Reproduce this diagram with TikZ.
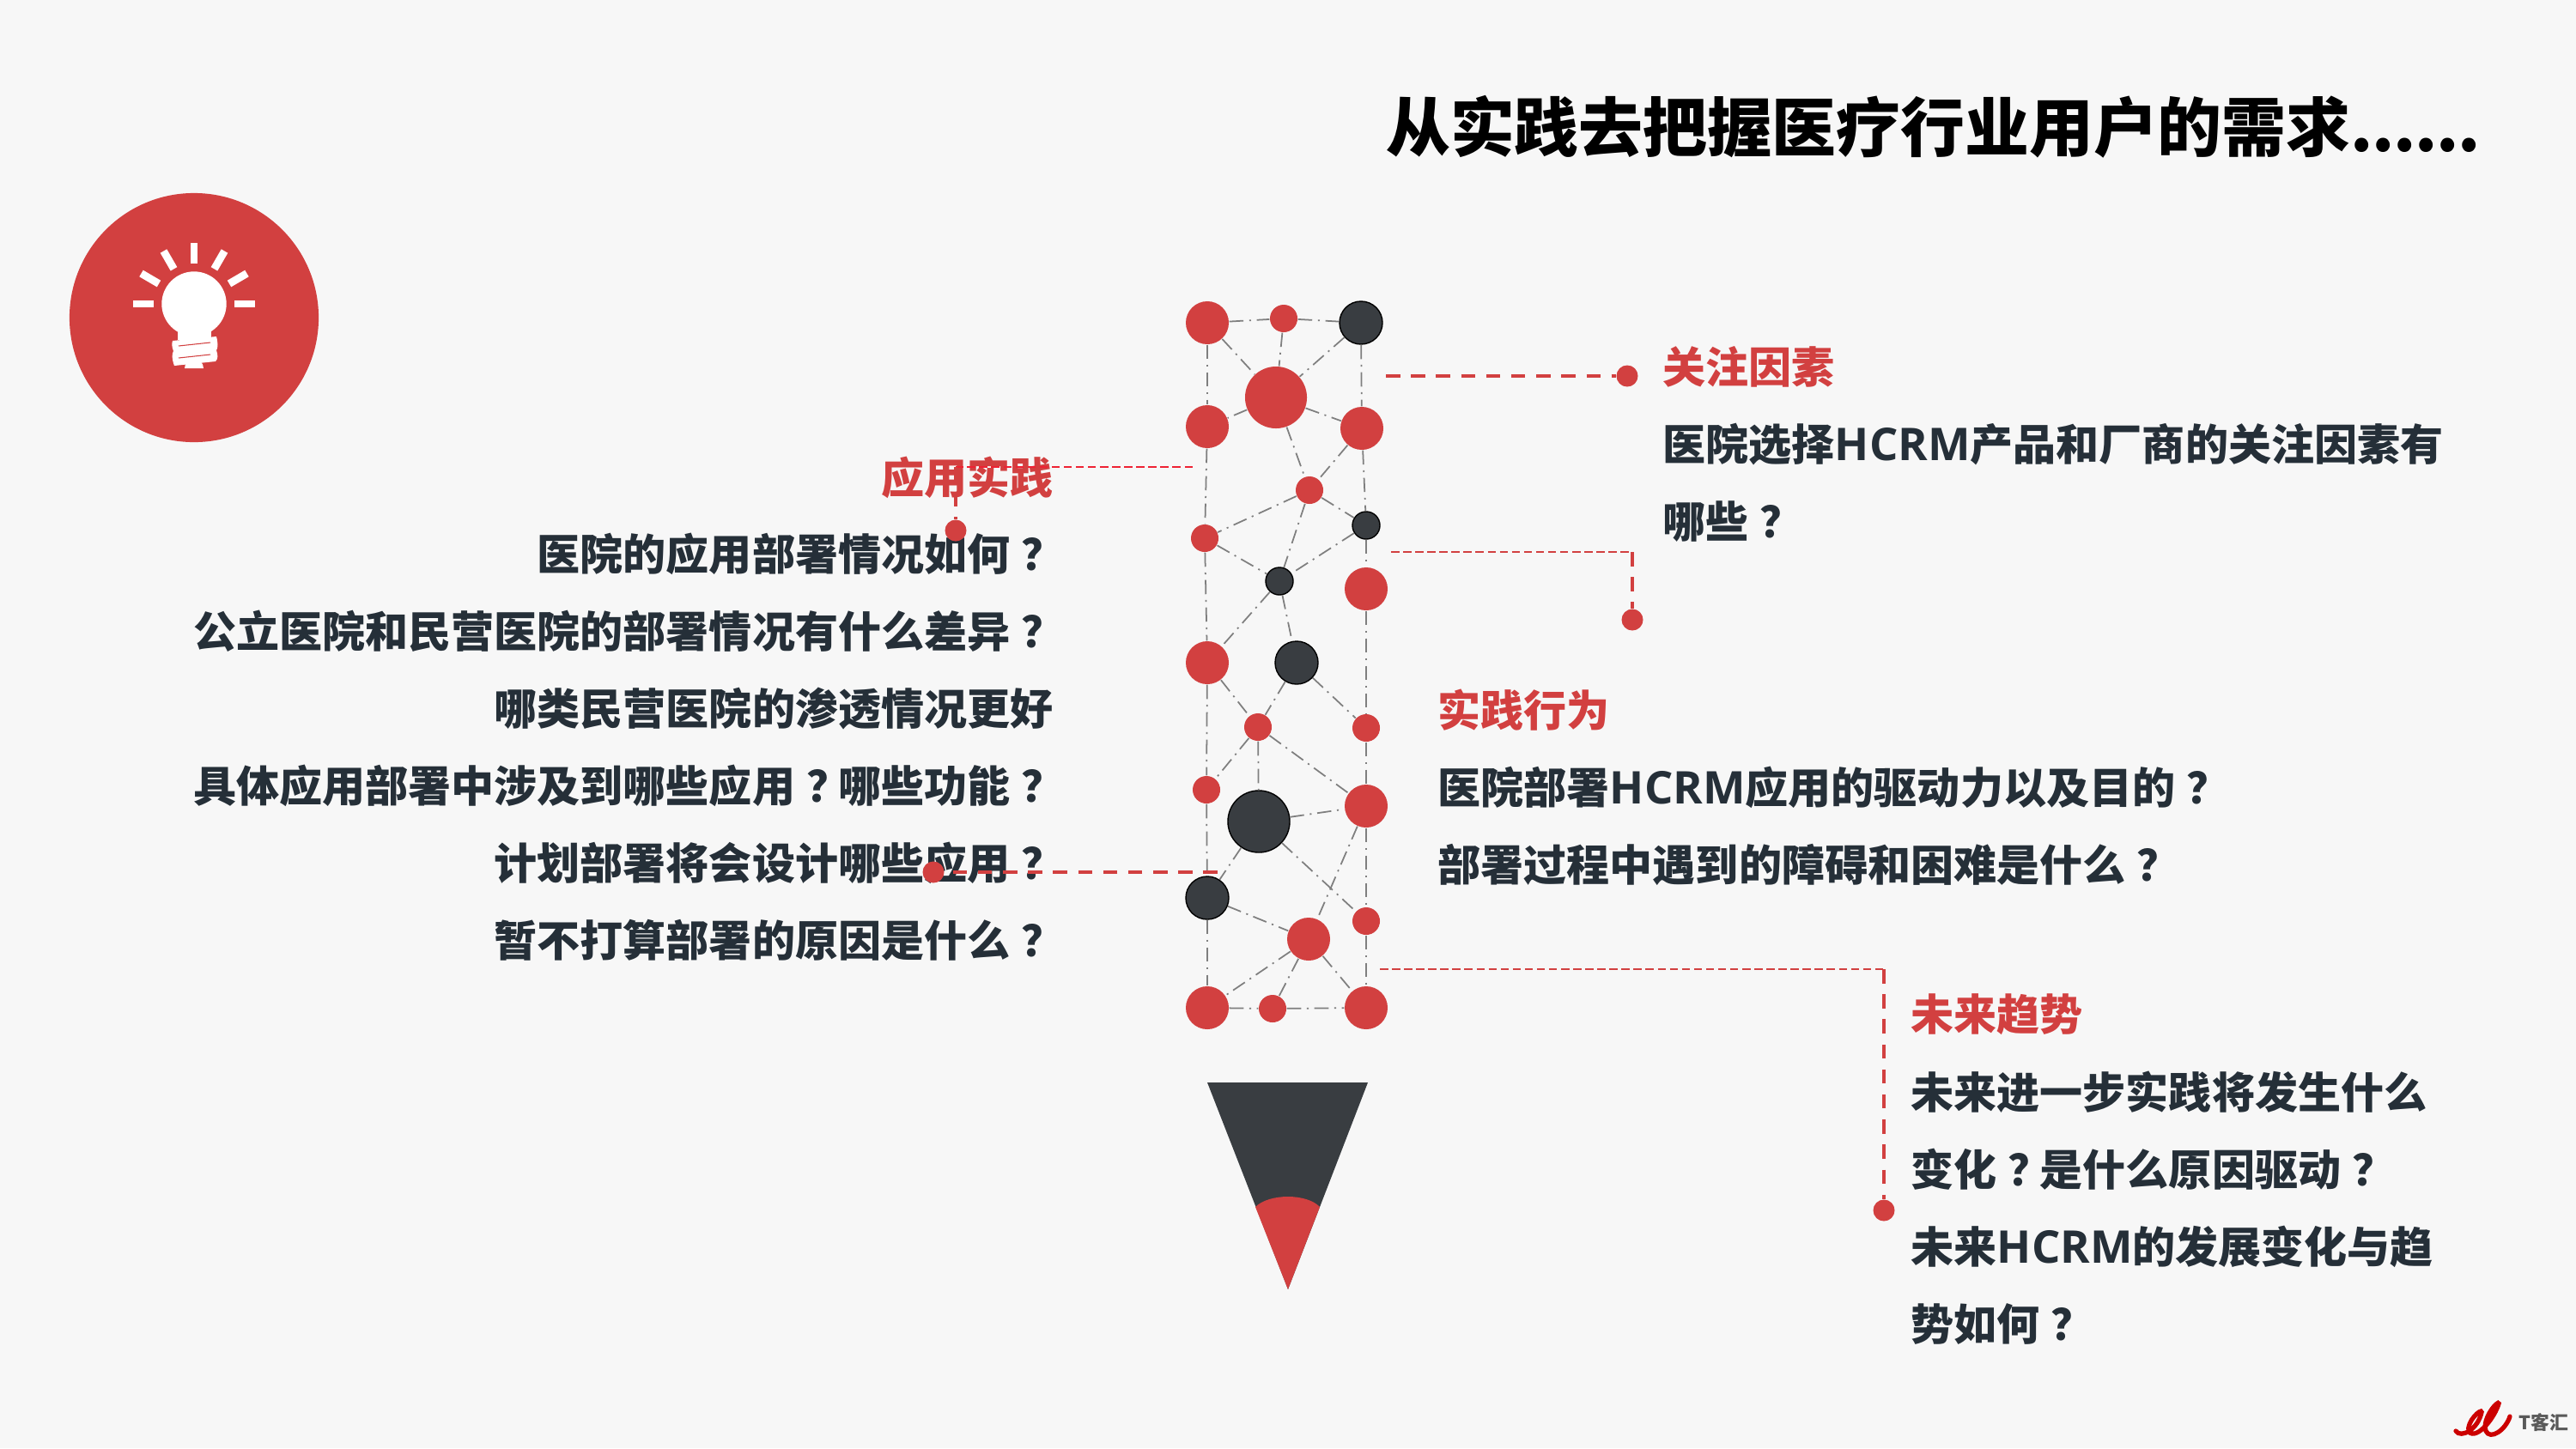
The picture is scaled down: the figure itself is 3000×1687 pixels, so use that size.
\documentclass[tikz,border=0pt]{standalone}
\usepackage{fontspec}
\setmainfont{Noto Sans CJK SC}
\newfontfamily\latinfont[Scale=1.05]{Open Sans}
\usetikzlibrary{positioning}
\definecolor{pagegray}{HTML}{F7F7F7}
\definecolor{ballred}{HTML}{D24040}
\definecolor{balldark}{HTML}{393D41}
\definecolor{linkgray}{HTML}{7F7F7F}
\definecolor{textdark}{HTML}{252F38}
\definecolor{brightred}{HTML}{EE2233}
\newcommand{\qmark}{\makebox[1em][l]{\hspace*{0.26em}？}}
\newcommand{\hcrm}{{\latinfont HCRM}}
\begin{document}
\begin{tikzpicture}[x=0.01cm,y=-0.01cm,
    ballstyle/.style={circle,inner sep=0pt},
    redsm/.style={ballstyle,fill=ballred,minimum size=0.32cm},
    redmd/.style={ballstyle,fill=ballred,minimum size=0.5cm},
    redlg/.style={ballstyle,fill=ballred,minimum size=0.72cm},
    darksm/.style={ballstyle,fill=balldark,draw=black,line width=0.4pt,minimum size=0.32cm},
    darkmd/.style={ballstyle,fill=balldark,draw=black,line width=0.4pt,minimum size=0.5cm},
    darklg/.style={ballstyle,fill=balldark,draw=black,line width=0.4pt,minimum size=0.72cm},
    linkline/.style={linkgray,line width=0.5pt,dash pattern=on 4.7pt off 1.9pt on 0.6pt off 1.9pt},
    thinred/.style={ballred,line width=0.5pt,dash pattern=on 2.7pt off 1.3pt},
    thickred/.style={ballred,line width=1.2pt,dash pattern=on 4.7pt off 3.6pt},
    enddot/.style={ballstyle,fill=ballred,minimum size=0.25cm},
    headtext/.style={inner sep=0pt,text=ballred,font=\fontsize{14.23}{25.6}\selectfont\bfseries},
    bodytext/.style={inner sep=0pt,text=textdark,font=\fontsize{14.23}{25.6}\selectfont\bfseries},
    bulbray/.style={white,line width=2.5pt}]
      \useasboundingbox (0,0) rectangle (3000,1687);
      \fill[pagegray] (0,0) rectangle (3000,1687);

      \node[anchor=east,inner sep=0pt,text=black,font=\fontsize{21.3}{26}\selectfont\bfseries] (title) at (2889,148) {从实践去把握医疗行业用户的需求{\addfontfeature{LetterSpace=-1.9}......}};

      \node[ballstyle,fill=ballred,minimum size=2.9cm] (badge) at (226,370) {};
      \fill[white] (226,354) circle (37.7);
      \fill[white] (207,380) rectangle (246,396);
      \fill[white] (201,397) -- (252,392) .. controls (254,400) and (254,405) .. (252,408) .. controls (254,414) and (254,418) .. (251,421) -- (203,426) .. controls (200,418) and (200,412) .. (202,409) .. controls (200,404) and (200,400) .. (201,397) -- cycle;
      \draw[ballred,line width=0.3pt] (208,403) -- (245,399);
      \draw[ballred,line width=0.3pt] (208,417) -- (245,413);
      \fill[white] (215,429) arc (180:0:11 and -11) -- cycle;
      \draw[bulbray] (273,354) -- (297,354);
      \draw[bulbray] (267,330.5) -- (287.5,318.5);
      \draw[bulbray] (249.5,313.3) -- (261.5,292.5);
      \draw[bulbray] (226,307) -- (226,283);
      \draw[bulbray] (202.5,313.3) -- (190.5,292.5);
      \draw[bulbray] (185,330.5) -- (164.5,318.5);
      \draw[bulbray] (179,354) -- (155,354);

      \node[redmd] (ball1) at (1406,376) {};
      \node[redsm] (ball2) at (1495,371) {};
      \node[darkmd] (ball3) at (1585,376) {};
      \node[redlg] (ball4) at (1486,463) {};
      \node[redmd] (ball5) at (1406,497) {};
      \node[redmd] (ball6) at (1586,499) {};
      \node[redsm] (ball7) at (1525,571) {};
      \node[darksm] (ball8) at (1591,612) {};
      \node[redsm] (ball9) at (1403,627) {};
      \node[darksm] (ball10) at (1490,677) {};
      \node[redmd] (ball11) at (1591,686) {};
      \node[redmd] (ball12) at (1406,772) {};
      \node[darkmd] (ball13) at (1510,772) {};
      \node[redsm] (ball14) at (1465,847) {};
      \node[redsm] (ball15) at (1591,848) {};
      \node[redsm] (ball16) at (1405,920) {};
      \node[redmd] (ball17) at (1591,939) {};
      \node[darklg] (ball18) at (1466,957) {};
      \node[darkmd] (ball19) at (1406,1046) {};
      \node[redmd] (ball20) at (1524,1094) {};
      \node[redsm] (ball21) at (1591,1073) {};
      \node[redmd] (ball22) at (1406,1174) {};
      \node[redsm] (ball23) at (1482,1175) {};
      \node[redmd] (ball24) at (1591,1174) {};

      \draw[linkline] (ball1) -- (ball2);
      \draw[linkline] (ball2) -- (ball3);
      \draw[linkline] (ball1) -- (ball4);
      \draw[linkline] (ball2) -- (ball4);
      \draw[linkline] (ball3) -- (ball4);
      \draw[linkline] (ball1) -- (ball5);
      \draw[linkline] (ball3) -- (ball6);
      \draw[linkline] (ball4) -- (ball5);
      \draw[linkline] (ball4) -- (ball6);
      \draw[linkline] (ball5) -- (ball9);
      \draw[linkline] (ball6) -- (ball8);
      \draw[linkline] (ball4) -- (ball7);
      \draw[linkline] (ball6) -- (ball7);
      \draw[linkline] (ball7) -- (ball8);
      \draw[linkline] (ball7) -- (ball9);
      \draw[linkline] (ball7) -- (ball10);
      \draw[linkline] (ball8) -- (ball10);
      \draw[linkline] (ball9) -- (ball10);
      \draw[linkline] (ball8) -- (ball11);
      \draw[linkline] (ball9) -- (ball12);
      \draw[linkline] (ball10) -- (ball12);
      \draw[linkline] (ball10) -- (ball13);
      \draw[linkline] (ball11) -- (ball15);
      \draw[linkline] (ball12) -- (ball16);
      \draw[linkline] (ball12) -- (ball14);
      \draw[linkline] (ball13) -- (ball14);
      \draw[linkline] (ball13) -- (ball15);
      \draw[linkline] (ball14) -- (ball16);
      \draw[linkline] (ball14) -- (ball18);
      \draw[linkline] (ball14) -- (ball17);
      \draw[linkline] (ball15) -- (ball17);
      \draw[linkline] (ball16) -- (ball19);
      \draw[linkline] (ball18) -- (ball17);
      \draw[linkline] (ball18) -- (ball19);
      \draw[linkline] (ball18) -- (ball21);
      \draw[linkline] (ball17) -- (ball20);
      \draw[linkline] (ball17) -- (ball21);
      \draw[linkline] (ball21) -- (ball24);
      \draw[linkline] (ball19) -- (ball22);
      \draw[linkline] (ball19) -- (ball20);
      \draw[linkline] (ball20) -- (ball22);
      \draw[linkline] (ball20) -- (ball23);
      \draw[linkline] (ball20) -- (ball24);
      \draw[linkline] (ball22) -- (ball23);
      \draw[linkline] (ball23) -- (ball24);

      \node[headtext,anchor=east] (usehead) at (1227,556) {应用实践};
      \node[bodytext,anchor=north east,align=right] (usebody) at (1227,620) {医院的应用部署情况如何\qmark\\公立医院和民营医院的部署情况有什么差异\qmark\\哪类民营医院的渗透情况更好\\具体应用部署中涉及到哪些应用\qmark 哪些功能\qmark\\计划部署将会设计哪些应用\qmark\\暂不打算部署的原因是什么\qmark};
      \node[headtext,anchor=west] (carehead) at (1936,427) {关注因素};
      \node[bodytext,anchor=north west,align=left] (carebody) at (1936,492) {医院选择\hcrm 产品和厂商的关注因素有\\哪些\qmark};
      \node[headtext,anchor=west] (acthead) at (1674,827) {实践行为};
      \node[bodytext,anchor=north west,align=left] (actbody) at (1674,892) {医院部署\hcrm 应用的驱动力以及目的\qmark\\部署过程中遇到的障碍和困难是什么\qmark};
      \node[headtext,anchor=west] (nexthead) at (2225,1182) {未来趋势};
      \node[bodytext,anchor=north west,align=left] (nextbody) at (2225,1247) {未来进一步实践将发生什么\\变化\qmark 是什么原因驱动\qmark\\未来\hcrm 的发展变化与趋\\势如何\qmark};

      \coordinate (carefree) at (1614,438);
      \node[enddot] (caredot) at (1895,438) {};
      \draw[thickred] (carefree) -- (caredot);
      \coordinate (pickfree) at (1620,643);
      \coordinate (pickbend) at (1901,643);
      \node[enddot] (pickdot) at (1901,722) {};
      \draw[thinred] (pickfree) -- (pickbend);
      \draw[thickred] (pickbend) -- (pickdot);
      \coordinate (usefree) at (1389,544);
      \coordinate (usebend) at (1113,544);
      \node[enddot] (usedot) at (1113,618) {};
      \draw[thinred,brightred] (usefree) -- (usebend);
      \draw[thickred] (usebend) -- (usedot);
      \coordinate (planfree) at (1418,1016);
      \node[enddot] (plandot) at (1087,1016) {};
      \draw[thickred] (planfree) -- (plandot);
      \coordinate (trendfree) at (1607,1129);
      \coordinate (trendbend) at (2194,1129);
      \node[enddot] (trenddot) at (2194,1410) {};
      \draw[thinred] (trendfree) -- (trendbend);
      \draw[thickred] (trendbend) -- (trenddot);

      \fill[balldark] (1406,1261) -- (1593,1261) -- (1500,1502) -- cycle;
      \fill[ballred] (1462,1406) .. controls (1478,1390) and (1522,1390) .. (1537,1406) -- (1500,1502) -- cycle;

      \draw[red!80!black,line width=1.5pt,line cap=round] (2860,1667) .. controls (2866,1676) and (2886,1665) .. (2890,1645) .. controls (2890,1640) and (2872,1656) .. (2875,1668) .. controls (2885,1678) and (2906,1650) .. (2910,1635) .. controls (2910,1630) and (2890,1652) .. (2895,1667) .. controls (2900,1678) and (2918,1666) .. (2923,1650);
      \node[inner sep=0pt,text=black!65,font=\fontsize{6.2}{7}\selectfont\bfseries] (logotext) at (2962,1657) {T客汇};
\end{tikzpicture}
\end{document}
